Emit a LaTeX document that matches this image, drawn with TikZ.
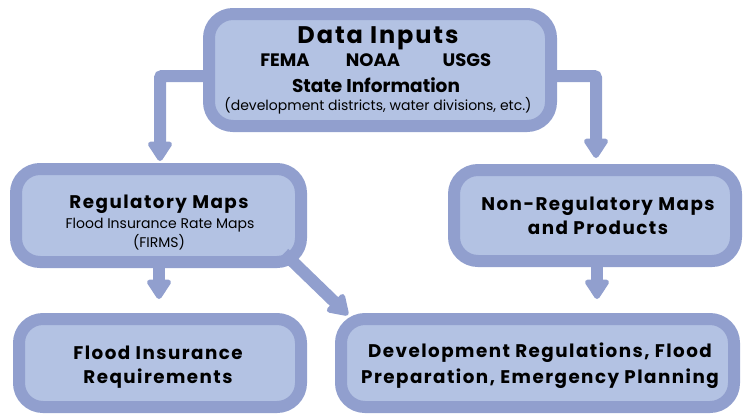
\documentclass[tikz,border=0pt]{standalone}
\usepackage{fontspec}
\setmainfont{Poppins}
\newfontfamily\spacedfont[LetterSpace=8]{Poppins}
\usetikzlibrary{arrows.meta,calc}
\definecolor{boxedge}{HTML}{919FCE}
\definecolor{boxfill}{HTML}{B3C2E3}

\begin{document}
\begin{tikzpicture}[x=1pt,y=-1pt,
  panel/.style={draw=boxedge,fill=boxfill,line width=12pt,rounded corners=24pt,
    inner sep=0pt,minimum width=#1},
  flow/.style={draw=boxedge,line width=12pt,rounded corners=2pt,
    -{Triangle[width=27pt,length=22pt,round]}},
  title/.style={anchor=base,font=\spacedfont\bfseries\fontsize{24}{28}\selectfont},
  heading/.style={anchor=base,font=\spacedfont\bfseries\fontsize{18.3}{22}\selectfont},
  source/.style={anchor=base,font=\bfseries\fontsize{18}{21}\selectfont},
  subhead/.style={anchor=base,font=\bfseries\fontsize{18.5}{22}\selectfont},
  plain/.style={anchor=base,font=\fontsize{14}{17}\selectfont},
]
\useasboundingbox (0,0) rectangle (743,415);

% connectors, drawn first so the box borders cover their roots
\coordinate (dataL) at (215,76);
\coordinate (dataR) at (545,76);
\coordinate (regTop) at (160,170);
\coordinate (nonTop) at (596,170);
\coordinate (diagEnd) at (348,315);

\draw[flow] (dataL) -| ([yshift=9pt]regTop);
\draw[flow] (dataR) -| ([yshift=12pt]nonTop);

% boxes
\node[panel=342pt,minimum height=112pt] (data) at (380,70) {};
\node[panel=285pt,minimum height=93pt] (reg) at (158.5,215.5) {};
\node[panel=282pt,minimum height=91pt] (nonreg) at (595,215.5) {};
\node[panel=282pt,minimum height=88pt] (fir) at (160,363) {};
\node[panel=393pt,minimum height=88pt] (dev) at (537.5,363) {};

% arrows between the lower boxes
\draw[flow,shorten >=14pt] ([xshift=0.5pt]reg.south) -- ([xshift=-1pt]fir.north);
\draw[flow,shorten >=14pt] ([xshift=2pt]nonreg.south) -- ([xshift=59.5pt]dev.north);
\draw[flow,shorten <=-4pt] (reg.south east) ++(-20,-12) coordinate (diagRoot) -- (diagEnd);

% texts of the top box
\node[title] (t1) at (378,43) {Data Inputs};
\node[source] (t2) at (285,66) {FEMA};
\node[source] (t3) at (373,66) {NOAA};
\node[source] (t4) at (467,66) {USGS};
\node[subhead] (t5) at (376,92) {State Information};
\node[plain] (t6) at (378,110) {(development districts, water divisions, etc.)};

% texts of the middle row
\node[heading] (r1) at (159,208) {Regulatory Maps};
\node[plain] (r2) at (160,228) {Flood Insurance Rate Maps};
\node[plain] (r3) at (159,247) {(FIRMS)};
\node[heading] (n1) at (598,210) {Non-Regulatory Maps};
\node[heading] (n2) at (598,234) {and Products};

% texts of the bottom row
\node[heading] (f1) at (158,359) {Flood Insurance};
\node[heading] (f2) at (158,383) {Requirements};
\node[heading] (d1) at (540,357) {Development Regulations, Flood};
\node[heading] (d2) at (540,383) {Preparation, Emergency Planning};
\end{tikzpicture}
\end{document}
